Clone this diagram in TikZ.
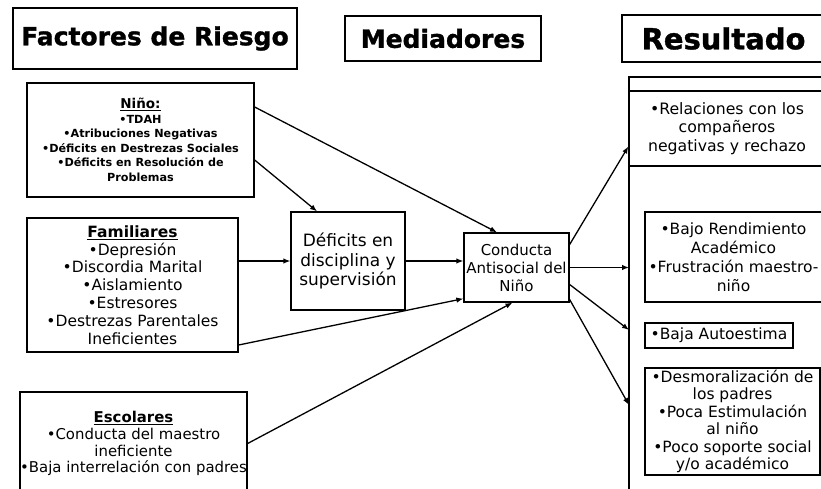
\documentclass[tikz,border=0pt]{standalone}
\usepackage{fontspec}
\setmainfont{DejaVu Sans}
\newfontfamily\headfont{DejaVu Sans}[FakeBold=1.2]
\usepackage{tikz}
\usetikzlibrary{arrows.meta,positioning}

\tikzset{
  caja/.style={draw, line width=1.3pt, align=center, inner sep=0pt},
  titulo/.style={caja, font=\headfont\bfseries\fontsize{25}{28}\selectfont},
  flecha/.style={-{Latex[length=7pt,width=5.5pt]}, line width=1.3pt}
}

\begin{document}
\begin{tikzpicture}[x=1pt,y=-1pt]
                \useasboundingbox (0,0) rectangle (821,489);
                % encabezados
                \node[titulo, minimum width=284pt, minimum height=61pt] (riesgo) at (155,38.5) {Factores de Riesgo};
                \node[titulo, minimum width=196pt, minimum height=45pt] (medi) at (443,38.5) {Mediadores};
                \node[titulo, minimum width=203pt, minimum height=47pt, font=\headfont\bfseries\fontsize{29}{30}\selectfont] (resul) at (723.5,38.5) {Resultado};

                % factores de riesgo
                \node[caja, minimum width=227pt, minimum height=114pt, font=\bfseries\fontsize{11.2}{14.5}\selectfont] (nino) at (140.5,140)
                    {\underline{\fontsize{13.5}{14.5}\selectfont Niño:}\\ •TDAH\\ •Atribuciones Negativas\\ •Déficits en Destrezas Sociales\\ •Déficits en Resolución de\\ Problemas};
                \node[caja, minimum width=211pt, minimum height=134pt, font=\fontsize{15.5}{17.8}\selectfont] (fam) at (132.5,285)
                    {\underline{\bfseries Familiares}\\ •Depresión\\ •Discordia Marital\\ •Aislamiento\\ •Estresores\\ •Destrezas Parentales\\ Ineficientes};
                \node[caja, minimum width=227pt, minimum height=103pt, font=\fontsize{14.9}{16.8}\selectfont] (esc) at (133.5,443.5)
                    {\underline{\bfseries Escolares}\\ •Conducta del maestro\\ ineficiente\\ •Baja interrelación con padres};

                % mediadores
                \node[caja, minimum width=114pt, minimum height=98pt, font=\fontsize{17}{19.5}\selectfont] (def) at (348,261)
                    {Déficits en\\ disciplina y\\ supervisión};
                \node[caja, minimum width=105pt, minimum height=69pt, font=\fontsize{15}{18}\selectfont] (cond) at (516.5,267.5)
                    {Conducta\\ Antisocial del\\ Niño};

                % resultado
                \draw[line width=1.3pt] (825,77) -- (629,77) coordinate (marco) -- (629,495);
                \node[caja, minimum width=196pt, minimum height=75pt, font=\fontsize{15.7}{18.5}\selectfont] (rel) at (727,128.5)
                    {•Relaciones con los\\ compañeros\\ negativas y rechazo};
                \node[caja, minimum width=177pt, minimum height=90pt, font=\fontsize{15.5}{19}\selectfont] (bajo) at (733.5,257)
                    {•Bajo Rendimiento\\ Académico\\ •Frustración maestro-\\ niño};
                \node[caja, minimum width=148pt, minimum height=25pt, font=\fontsize{15.5}{15}\selectfont] (auto) at (719,335.5)
                    {•Baja Autoestima};
                \node[caja, minimum width=175pt, minimum height=107pt, font=\fontsize{15.5}{17.5}\selectfont] (desm) at (732.5,421.5)
                    {•Desmoralización de\\ los padres\\ •Poca Estimulación\\ al niño\\ •Poco soporte social\\ y/o académico};
                \coordinate (llega1) at (629,330);
                \coordinate (llega2) at (629,405);

                % flechas
                \draw[flecha] ([yshift=33pt]nino.east) -- ([xshift=-19.5pt]cond.north);
                \draw[flecha] ([yshift=-20pt]nino.east) -- ([xshift=-31pt]def.north);
                \draw[flecha] (fam.east |- def.west) -- (def.west);
                \draw[flecha] ([yshift=-60pt]fam.east) -- ([yshift=4pt]cond.south west);
                \draw[flecha] (esc.east) -- ([xshift=-4pt]cond.south);
                \draw[flecha] (def.east) -- (def.east -| cond.west);
                \draw[flecha] ([yshift=23pt]cond.east) -- ([yshift=-18pt]rel.west);
                \draw[flecha] (cond.east) -- (cond.east -| marco);
                \draw[flecha] ([yshift=-17pt]cond.east) -- (llega1);
                \draw[flecha] ([yshift=-32pt]cond.east) -- (llega2);
            \end{tikzpicture}
\end{document}
